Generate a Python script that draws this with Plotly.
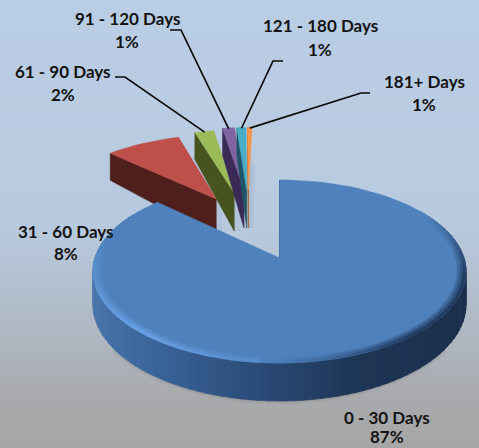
import math
import plotly.graph_objects as go

# ---- data ----
categories = ["0 - 30 Days", "31 - 60 Days", "61 - 90 Days", "91 - 120 Days", "121 - 180 Days", "181+ Days"]
values = [87.0, 8.1, 2.1, 1.3, 1.0, 0.5]
pct_labels = ["87%", "8%", "2%", "1%", "1%", "1%"]
top_colors = ["#4F81BD", "#BE4F4B", "#9BBB59", "#8064A2", "#4BACC6", "#F79646"]
wall_colors = ["#2A4A75", "#4F1F1B", "#47541F", "#3A2A55", "#1F5566", "#A85A1E"]
# explosion of each slice in disc units (across, away from viewer)
explode = [(0, 0), (-0.38, 0.73), (-0.275, 0.813), (-0.217, 0.856), (-0.2, 0.856), (-0.19, 0.856)]
label_pos = [(387, 417, 436.5), (66, 231, 253), (63, 71, 94), (127, 18, 41), (320, 25, 49), (424, 81, 104)]
leaders = [None, None,
           [(115, 77), (125, 77)],
           [(170, 30), (181, 30)],
           [(283, 61), (273, 61)],
           [(370, 93), (361, 93)]]
leader_r = [0, 0, 0.99, 0.99, 0.99, 0.99]

# ---- projection of the pie plane ----
CX, CY, A, B, P, DEPTH = 279.5, 258, 184.5, 89.5, 0.1475, 32.4
APEX_DROP, OUTER_DROP = 38, 27


def proj(u, v, low=False):
    w = 1 + P * v
    return CX + A * u / w, CY - B * v / w + (DEPTH / w if low else 0)


def on_disc(theta, r=1.0, off=(0, 0)):
    t = math.radians(theta)
    return off[0] + r * math.sin(t), off[1] + r * math.cos(t)


def hexmix(c1, c2, t):
    a = [int(c1[i:i + 2], 16) for i in (1, 3, 5)]
    b = [int(c2[i:i + 2], 16) for i in (1, 3, 5)]
    return "#%02X%02X%02X" % tuple(round(x + (y - x) * t) for x, y in zip(a, b))


fig = go.Figure()


def poly(pts, fill, line=None, lw=0.6):
    fig.add_trace(go.Scatter(
        x=[p[0] for p in pts] + [pts[0][0]], y=[p[1] for p in pts] + [pts[0][1]],
        mode="lines", fill="toself", fillcolor=fill,
        line=dict(color=line or fill, width=lw), hoverinfo="skip", showlegend=False))


def polyline(pts, color, width):
    fig.add_trace(go.Scatter(x=[p[0] for p in pts], y=[p[1] for p in pts], mode="lines",
                             line=dict(color=color, width=width), hoverinfo="skip", showlegend=False))


# background gradient
rows = list(range(-8, 464, 8))
fig.add_trace(go.Heatmap(
    x=[-10, 489], y=rows, z=[[r / 448, r / 448] for r in rows], zmin=0, zmax=1, zsmooth="best",
    showscale=False, hoverinfo="skip",
    colorscale=[[0, "#B9CDE5"], [0.5, "#B8CADF"], [0.72, "#B0B9C5"], [0.9, "#A8A9AB"], [1, "#A6A6A6"]]))

# angular spans
total = sum(values)
spans = []
start = 0.0
for val in values:
    end = start + val / total * 360
    spans.append((start, end))
    start = end


def arc(a, b, off=(0, 0), r=1.0, low=False, n=40):
    n = max(2, int(abs(b - a) / 3) + 2) if n == 40 else n
    return [proj(*on_disc(a + (b - a) * i / (n - 1), r, off), low) for i in range(n)]


# exploded slices, far to near
for i in range(1, len(values)):
    a, b = spans[i]
    off = explode[i]
    outer = on_disc(a, 1.0, off)
    ap, ou = proj(*off), proj(*outer)
    wall = [ap, ou, (ou[0], ou[1] + OUTER_DROP), (ap[0], ap[1] + APEX_DROP)]
    # faint cast shadow
    polyline([(ou[0] + 3, ou[1] + OUTER_DROP), (ap[0] + 3, ap[1] + APEX_DROP), (ap[0] + 4, ap[1] - 25)],
             "rgba(80,95,120,0.05)", 6)
    poly(wall, wall_colors[i])
    poly([ap] + arc(a, b, off), top_colors[i])

# soft shadow beneath main disc
a0, b0 = spans[0]
for width, alpha in ((7, 0.04), (4, 0.06), (2, 0.08)):
    polyline(arc(125, 235, low=True, n=60), "rgba(60,60,60,%s)" % alpha, width)

# main slice: radial wall, curved wall, bevel, top
poly([proj(0, 0), proj(0, 1), proj(0, 1, True), proj(0, 0, True)], "#1D3557", "#1D3557", 1)


def wall_color(u):
    stops = [(-1.0, "#4A78AE"), (-0.6, "#3B659A"), (-0.1, "#2A4B78"), (0.35, "#1E3655"), (1.0, "#1B2F4C")]
    for (x0, c0), (x1, c1) in zip(stops, stops[1:]):
        if u <= x1:
            return hexmix(c0, c1, (u - x0) / (x1 - x0))
    return stops[-1][1]


def bevel_color(th):
    # light on the near-left rim, dark on the right, none on the far side
    if th >= 185:
        t = 1 - abs(th - 225) / 60
        return hexmix(top_colors[0], "#68A2E6", max(0.0, min(1.0, t)))
    dark = max(0.0, min(1.0, (th - 60) / 40)) * max(0.0, min(1.0, (182 - th) / 40))
    return hexmix(top_colors[0], "#223C60", dark)


N = 130
step = (b0 - a0) / N
for k in range(N):
    t0, t1 = a0 + k * step, a0 + (k + 1) * step
    if 60 < t0 < 300:
        u = math.sin(math.radians((t0 + t1) / 2))
        poly(arc(t0, t1 + 0.3, n=3) + arc(t1 + 0.3, t0, low=True, n=3), wall_color(u))

poly([proj(0, 0)] + arc(a0, b0, n=100), top_colors[0])

rings = [(0.955, 0.97, 0.33), (0.97, 0.985, 0.66), (0.985, 1.0, 1.0)]
for r0, r1, mixv in rings:
    for k in range(N):
        t0, t1 = a0 + k * step, a0 + (k + 1) * step
        mid = (t0 + t1) / 2
        if 55 < t0 < 295:
            c = hexmix(top_colors[0], bevel_color(mid), mixv)
            poly(arc(t0, t1 + 0.3, r=r1, n=3) + arc(t1 + 0.3, t0, r=r0, n=3), c)

# leader lines
for i, pts in enumerate(leaders):
    if not pts:
        continue
    a, b = spans[i]
    tip = proj(*on_disc((a + b) / 2, leader_r[i], explode[i]))
    polyline(list(pts) + [tip], "#0A0A0A", 1.7)

# labels
annotations = []
for name, pct, (x, y1, y2) in zip(categories, pct_labels, label_pos):
    for txt, y in ((name, y1), (pct, y2)):
        annotations.append(dict(x=x, y=y, text="<b>%s</b>" % txt, showarrow=False, xref="x", yref="y",
                                font=dict(family="Lato", size=17, color="#141414")))

fig.update_layout(
    width=479, height=448, margin=dict(l=0, r=0, t=0, b=0), showlegend=False,
    paper_bgcolor="#B9CDE5", plot_bgcolor="rgba(0,0,0,0)", annotations=annotations,
    xaxis=dict(range=[0, 479], visible=False, fixedrange=True),
    yaxis=dict(range=[448, 0], visible=False, fixedrange=True))

fig.write_html("out.html", post_script="document.body.style.margin='0';",
               config={"displayModeBar": False})
